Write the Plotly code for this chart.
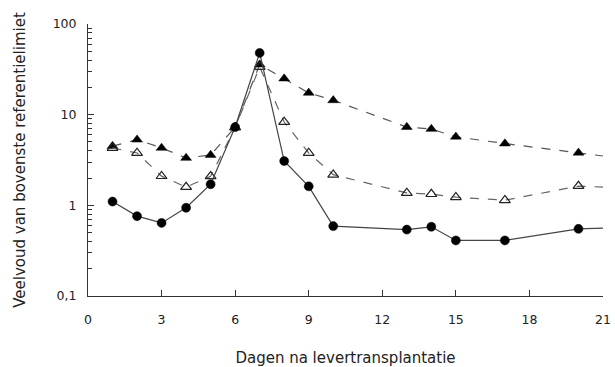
import plotly.graph_objects as go

days = [1, 2, 3, 4, 5, 6, 7, 8, 9, 10, 13, 14, 15, 17, 20, 21]
filled_circles = [1.10, 0.76, 0.64, 0.94, 1.71, 7.3, 48, 3.08, 1.62, 0.59, 0.54, 0.58, 0.41, 0.41, 0.55, 0.56]
filled_triangles = [4.5, 5.3, 4.3, 3.33, 3.59, 7.3, 35.7, 25, 17.4, 14.4, 7.3, 6.95, 5.7, 4.8, 3.8, 3.5]
open_triangles = [4.3, 3.78, 2.1, 1.59, 2.09, 7.2, 33.6, 8.3, 3.78, 2.18, 1.37, 1.33, 1.23, 1.14, 1.63, 1.59]
# last point (day 21) continues the line to the axis edge without a marker
marker_shown = [1] * (len(days) - 1) + [0]

x_ticks = [0, 3, 6, 9, 12, 15, 18, 21]
y_ticks = [0.1, 1, 10, 100]
y_tick_labels = ["0,1", "1", "10", "100"]
y_minor = [m * 10 ** e for e in (-1, 0, 1) for m in range(2, 10)]

fig = go.Figure()

fig.add_trace(go.Scatter(
    x=days, y=filled_triangles, mode="lines+markers",
    line=dict(color="#555555", width=1.2, dash="dash"),
    marker=dict(symbol="triangle-up", color="black", opacity=1,
                size=[9.5 * s for s in marker_shown],
                line=dict(color="black", width=0.5)),
    showlegend=False,
))
fig.add_trace(go.Scatter(
    x=days, y=open_triangles, mode="lines+markers",
    line=dict(color="#666666", width=1.2, dash="dash"),
    marker=dict(symbol="triangle-up-open", color="#222222", opacity=1,
                size=[9.5 * s for s in marker_shown],
                line=dict(color="#222222", width=1.2)),
    showlegend=False,
))
fig.add_trace(go.Scatter(
    x=days, y=filled_circles, mode="lines+markers",
    line=dict(color="#444444", width=1.2),
    marker=dict(symbol="circle", color="black", opacity=1,
                size=[9 * s for s in marker_shown],
                line=dict(color="black", width=0.5)),
    showlegend=False,
))

tick_font = dict(family="DejaVu Sans, sans-serif", size=12.5, color="#222222")
title_font = dict(family="DejaVu Sans, sans-serif", size=15, color="#222222")

fig.update_layout(
    width=615, height=367,
    margin=dict(l=88, r=12, t=24, b=71),
    plot_bgcolor="white", paper_bgcolor="white",
    font=tick_font,
    xaxis=dict(
        range=[0, 21], tickvals=x_ticks, ticks="inside", ticklen=6,
        tickcolor="#333333", showline=True, linecolor="#333333", linewidth=1,
        showgrid=False, zeroline=False, ticklabelstandoff=12, tickfont=tick_font,
        automargin=False,
        title=dict(text="Dagen na levertransplantatie", standoff=26, font=title_font),
    ),
    yaxis=dict(
        type="log", range=[-1, 2], tickvals=y_ticks, ticktext=y_tick_labels,
        ticks="inside", ticklen=6, tickcolor="#333333", tickfont=tick_font,
        showline=True, linecolor="#333333", linewidth=1,
        showgrid=False, zeroline=False, ticklabelstandoff=8, automargin=False,
        minor=dict(tickvals=y_minor, ticks="inside", ticklen=4, tickcolor="#333333", showgrid=False),
        title=dict(text="Veelvoud van bovenste referentielimiet", standoff=23, font=title_font),
    ),
)

fig.write_html("out.html")
